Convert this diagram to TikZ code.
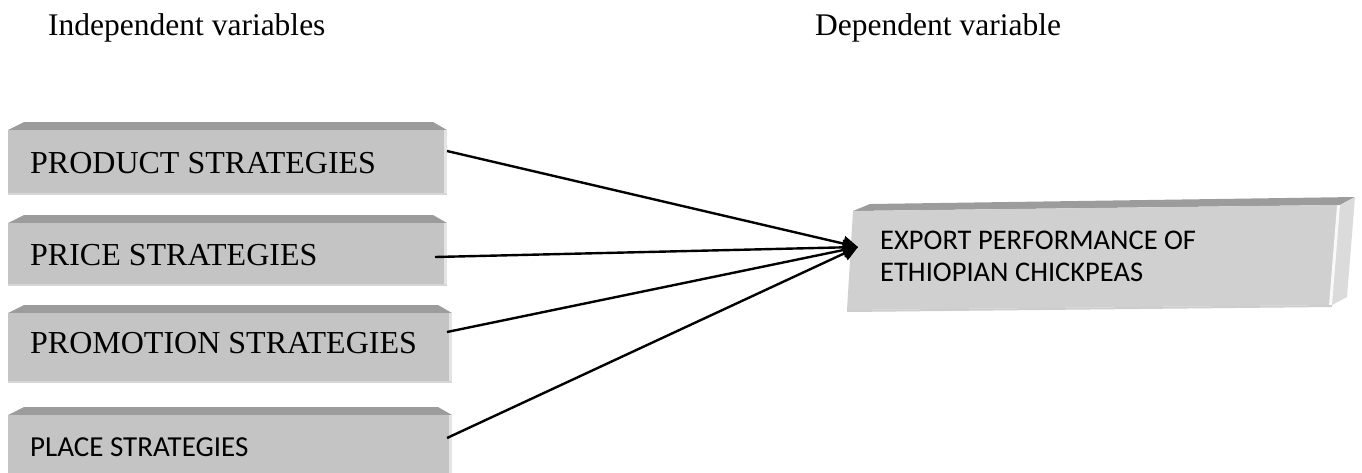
\documentclass[tikz,border=0pt]{standalone}
\usepackage{fontspec}
\setmainfont{Liberation Serif}
\newfontfamily\calibfont{Carlito}
\usetikzlibrary{arrows.meta}
\definecolor{faceL}{HTML}{C4C4C4}
\definecolor{faceR}{HTML}{D0D0D0}
\definecolor{bevelC}{HTML}{9C9C9C}
\definecolor{sideC}{HTML}{DBDBDB}
\definecolor{edgeR}{HTML}{E4E4E4}
\definecolor{edgeB}{HTML}{D6D6D6}
\tikzset{
  serif/.style={font=\fontsize{32}{38}\selectfont, inner sep=0pt, anchor=base west},
  header/.style={font=\fontsize{31.5}{38}\selectfont, inner sep=0pt, anchor=base west},
  sans/.style={font=\calibfont\fontsize{29}{34}\selectfont, inner sep=0pt, anchor=base west},
  sansR/.style={font=\calibfont\fontsize{28.5}{34}\selectfont, inner sep=0pt, anchor=base west},
  conn/.style={line width=2.4pt, -{Triangle[length=15pt,width=15pt]}},
}
\newcommand\mybevelbox[4]{%
  \fill[bevelC] (#1,#2) -- (#1+16,#2-8) -- (#3-14,#2-8) -- (#3,#2) -- cycle;
  \fill[faceL] (#1,#2) rectangle (#3,#4);
  \fill[edgeR] (#3-3,#2) rectangle (#3,#4);
  \fill[edgeB] (#1,#4-2) rectangle (#3,#4);
}
\begin{document}
\begin{tikzpicture}[x=1pt,y=-1pt]
\useasboundingbox (0,0) rectangle (1362,472);
\begin{scope}
\clip (0,0) rectangle (1362,472);
% left boxes
\mybevelbox{8}{130}{447}{195}
\mybevelbox{8}{223}{447}{286}
\mybevelbox{8}{313}{452}{383}
\mybevelbox{8}{415}{452}{480}
% right box
\fill[bevelC] (853,211) -- (870,204) -- (1355,197) -- (1340,205) -- cycle;
\fill[sideC] (1340,205) -- (1355,197) -- (1347,297) -- (1332,305) -- cycle;
\fill[faceR] (853,211) -- (1340,205) -- (1332,305) -- (847,310) -- cycle;
\fill[white!95!gray] (1337,205.5) -- (1340,205) -- (1332,305) -- (1329,305.5) -- cycle;
\fill[edgeB!90!gray] (847,310) -- (1332,305) -- (1332,307) -- (847,312) -- cycle;
\end{scope}
% headers
\node[header] (indep) at (48,35) {Independent variables};
\node[header] (dep) at (815,35) {Dependent variable};
% texts
\node[serif] (prod) at (30,173) {PRODUCT STRATEGIES};
\node[serif] (price) at (30,265) {PRICE STRATEGIES};
\node[serif] (promo) at (30,353) {PROMOTION STRATEGIES};
\node[sans] (place) at (30,456) {PLACE STRATEGIES};
\node[sansR] (exp1) at (880,249) {EXPORT PERFORMANCE OF};
\node[sansR] (exp2) at (880,281) {ETHIOPIAN CHICKPEAS};
% connectors
\coordinate (s1) at (447,151);
\coordinate (s2) at (435,257);
\coordinate (s3) at (447,332);
\coordinate (s4) at (447,438);
\coordinate (tip) at (858,247);
\draw[conn] (s1) -- (tip);
\draw[conn] (s2) -- (tip);
\draw[conn] (s3) -- (tip);
\draw[conn] (s4) -- (tip);
\end{tikzpicture}
\end{document}
